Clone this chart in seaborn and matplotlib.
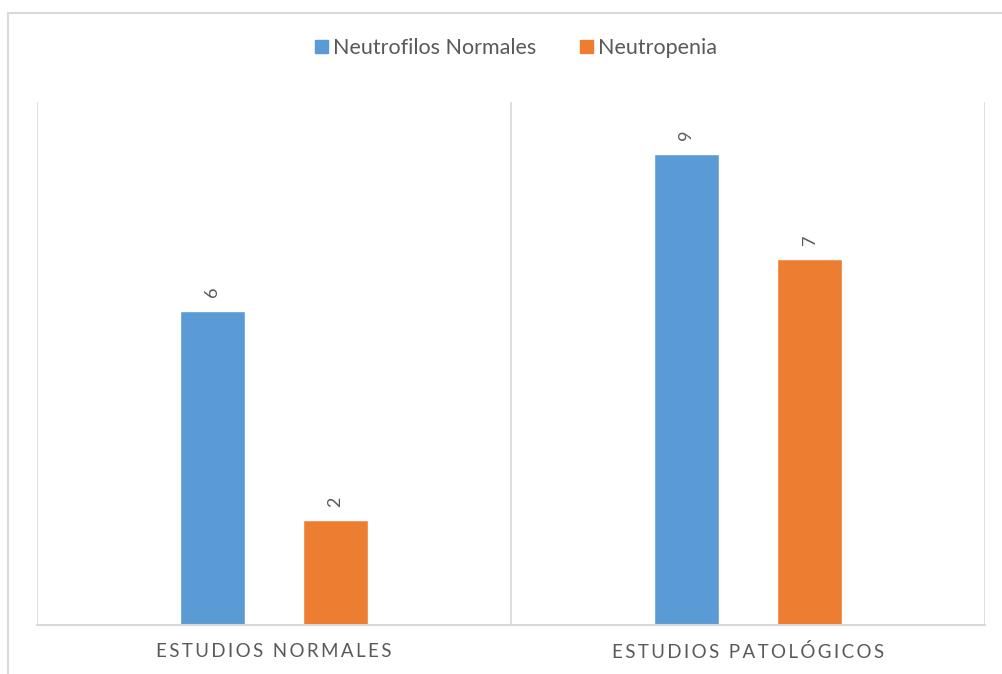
import matplotlib
matplotlib.use("Agg")
import matplotlib.pyplot as plt
import matplotlib.patches as mpatches
import seaborn as sns
import pandas as pd

categories = ["ESTUDIOS NORMALES", "ESTUDIOS PATOLÓGICOS"]
series = ["Neutrofilos Normales", "Neutropenia"]
neutrofilos_normales = [6, 9]
neutropenia = [2, 7]

colors = ["#5B9BD5", "#ED7D31"]
text_color = "#595959"
grid_color = "#D9D9D9"

sns.set_theme(style="white")
plt.rcParams["font.family"] = ["Lato", "DejaVu Sans"]

df = pd.DataFrame({
    "categoria": categories * 2,
    "serie": [series[0]] * 2 + [series[1]] * 2,
    "valor": neutrofilos_normales + neutropenia,
})


def spaced(s):
    # fake the wide letter spacing of the category labels
    return "\u2009".join(s).replace("\u2009 \u2009", "\u2009\u2009\u2009\u2009")


fig = plt.figure(figsize=(10.02, 6.74), dpi=100)
ax = fig.add_axes([37 / 1002, 1 - 625 / 674, (985 - 37) / 1002, (625 - 102) / 674])

sns.barplot(data=df, x="categoria", y="valor", hue="serie", palette=colors,
            width=0.52, gap=0.47, ax=ax, legend=False, saturation=1)

for cont in ax.containers:
    ax.bar_label(cont, rotation=90, padding=10, color=text_color, fontsize=13)

ax.set_ylim(0, 10)
ax.set_xlim(-0.5, 1.5)
ax.set_yticks([])
ax.set_xticks([0, 1])
ax.set_xticklabels([spaced(c) for c in categories], color=text_color, fontsize=13.5)
ax.tick_params(axis="x", length=0, pad=13)
ax.set_xlabel("")
ax.set_ylabel("")

for x in [-0.5, 0.5, 1.5]:
    ax.axvline(x, color=grid_color, lw=1.2, zorder=0)

for side in ["top", "right", "left"]:
    ax.spines[side].set_visible(False)
ax.spines["bottom"].set_color(grid_color)
ax.spines["bottom"].set_linewidth(1.5)

handles = [mpatches.Patch(color=c, label=s) for c, s in zip(colors, series)]
fig.legend(handles=handles, loc="center", bbox_to_anchor=(0.515, 1 - 48 / 674),
           ncol=2, frameon=False, fontsize=15.5, labelcolor=text_color,
           handlelength=0.6, handleheight=0.6, handletextpad=0.25, columnspacing=2.0)

# outer chart border (cut off at right and bottom in the reference)
fig.patches.append(mpatches.Rectangle((7.5 / 1002, -0.05), 1.2, 1.05 - 12.5 / 674,
                                      transform=fig.transFigure, fill=False,
                                      edgecolor=grid_color, lw=1.5))

fig.savefig("out.png", dpi=100)
